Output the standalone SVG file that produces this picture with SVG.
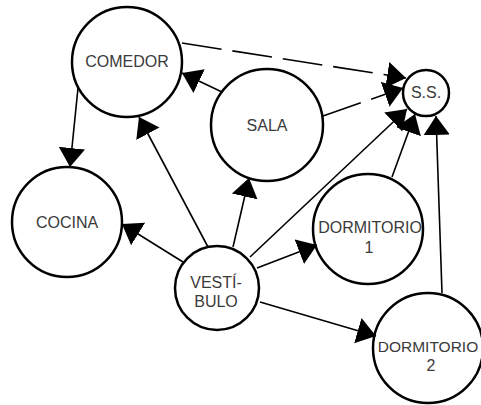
<svg xmlns="http://www.w3.org/2000/svg" width="481" height="405" viewBox="0 0 481 405">
  <defs>
    <style>
      .node circle { fill: #ffffff; stroke: #000000; stroke-width: 2.5; }
      .node text { font-family: "Liberation Sans", Arial, sans-serif; font-size: 16px; fill: #3a3a3a; text-anchor: middle; }
      .node text.tight { font-size: 15.5px; }
      .edge { stroke: #000000; stroke-width: 1.6; fill: none; marker-end: url(#arrow); }
      .dashed { stroke-dasharray: 40 11; }
    </style>
    <marker id="arrow" markerUnits="userSpaceOnUse" markerWidth="20" markerHeight="28" viewBox="0 -13 19 26" refX="18" refY="0" orient="auto">
      <path d="M0,-12.5 L18,0 L0,12.5 Z" fill="#000000"/>
    </marker>
  </defs>

  <rect width="481" height="405" fill="#ffffff"/>

  <g id="comedor" class="node">
    <circle cx="127" cy="62" r="55"/>
    <text x="127" y="67">COMEDOR</text>
  </g>
  <g id="sala" class="node">
    <circle cx="267" cy="125" r="56"/>
    <text x="267" y="131">SALA</text>
  </g>
  <g id="ss" class="node">
    <circle cx="426" cy="93" r="23"/>
    <text x="426" y="98">S.S.</text>
  </g>
  <g id="cocina" class="node">
    <circle cx="67" cy="222" r="55"/>
    <text x="67" y="228">COCINA</text>
  </g>
  <g id="vestibulo" class="node">
    <circle cx="217" cy="288" r="42"/>
    <text x="216" y="288">VESTÍ-</text>
    <text x="216" y="307">BULO</text>
  </g>
  <g id="dormitorio1" class="node">
    <circle cx="368" cy="229" r="55"/>
    <text x="370" y="233">DORMITORIO</text>
    <text x="369" y="253">1</text>
  </g>
  <g id="dormitorio2" class="node">
    <circle cx="428" cy="348" r="55"/>
    <text class="tight" x="428" y="352">DORMITORIO</text>
    <text x="431" y="371">2</text>
  </g>

  <g id="connectors">
    <line class="edge" x1="78" y1="88" x2="70" y2="167"/>
    <line class="edge" x1="222" y1="92" x2="182" y2="73"/>
    <line class="edge" x1="208" y1="247" x2="139" y2="117"/>
    <line class="edge" x1="233" y1="247" x2="249" y2="178"/>
    <line class="edge" x1="183" y1="262" x2="122" y2="224"/>
    <line class="edge" x1="250" y1="257" x2="407" y2="109"/>
    <line class="edge" x1="257" y1="268" x2="317" y2="245"/>
    <line class="edge" x1="260" y1="302" x2="376" y2="336"/>
    <line class="edge" x1="392" y1="177" x2="415" y2="114"/>
    <line class="edge" x1="442" y1="293" x2="436" y2="116"/>
    <line class="edge dashed" x1="182" y1="43" x2="406" y2="78"/>
    <line class="edge dashed" x1="323" y1="116" x2="403" y2="88"/>
  </g>
</svg>
